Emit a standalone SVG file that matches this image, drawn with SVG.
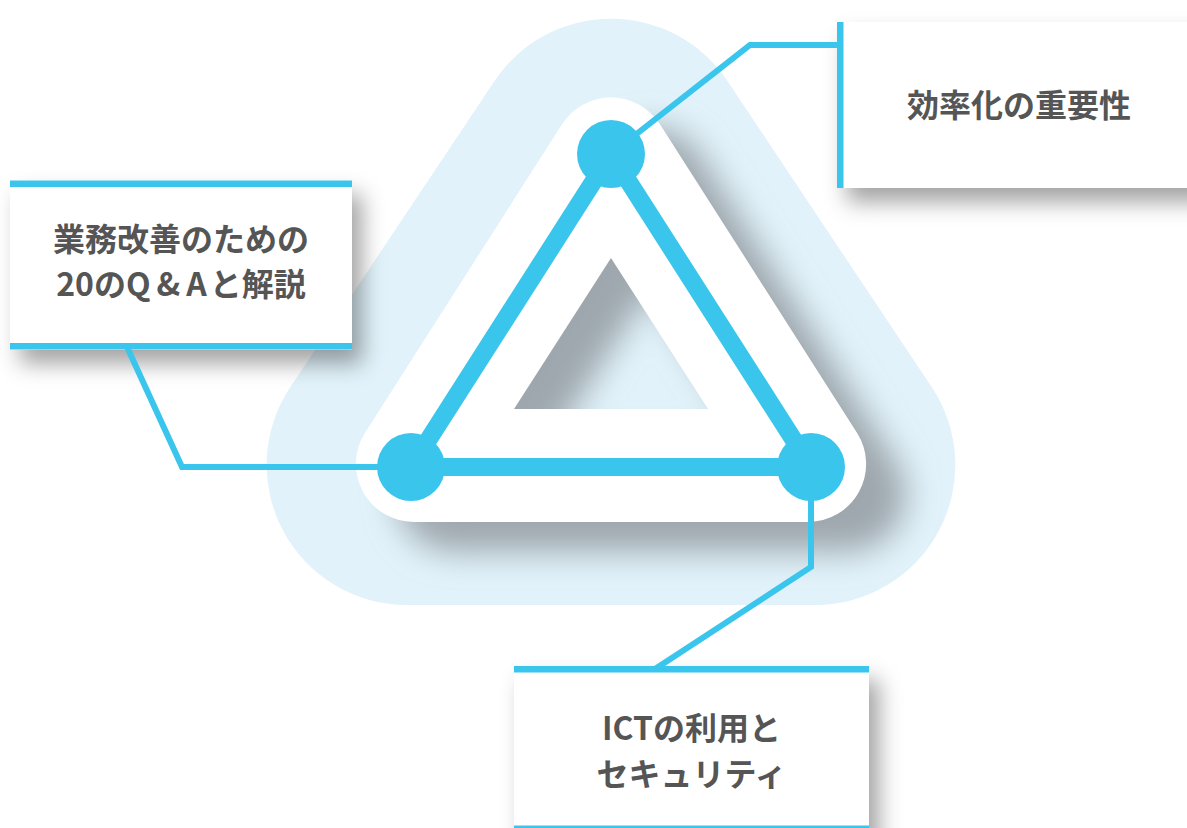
<svg xmlns="http://www.w3.org/2000/svg" width="1187" height="828" viewBox="0 0 1187 828">
  <defs>
    <style>
      .lbl { font-family: "Noto Sans CJK JP", "Noto Sans CJK SC", sans-serif; font-size: 32px; font-weight: 700; fill: #555555; text-anchor: middle; }
      .bar { fill: #3ac5ec; }
      .box { fill: #ffffff; filter: url(#boxShadow); }
      .conn { fill: none; stroke: #3ac5ec; stroke-width: 6; stroke-linejoin: miter; }
      .leg { fill: none; stroke: #3ac5ec; stroke-width: 18; stroke-linejoin: round; }
      .node { fill: #3ac5ec; }
    </style>
    <path id="outerShape" d="M 494.4 81.2 A 140 140 0 0 1 727.6 81.2 L 931.8 387.3 A 140 140 0 0 1 815.3 605 L 406.7 605 A 140 140 0 0 1 290.2 387.3 Z"/>
    <path id="ringShape" fill-rule="evenodd" d="M 562.2 124 A 58 58 0 0 1 659.8 124 L 857.1 432.9 A 58 58 0 0 1 808.3 522 L 413.7 522 A 58 58 0 0 1 364.9 432.9 Z M 611 258 L 514 409 L 708 409 Z"/>
    <clipPath id="outerClip">
      <use href="#outerShape"/>
    </clipPath>
    <filter id="triBlur" x="-30%" y="-30%" width="160%" height="160%">
      <feGaussianBlur stdDeviation="16"/>
    </filter>
    <filter id="boxShadow" x="-20%" y="-30%" width="140%" height="170%">
      <feDropShadow dx="10" dy="14" stdDeviation="11" flood-color="#000000" flood-opacity="0.36"/>
    </filter>
  </defs>

  <g id="background">
    <use href="#outerShape" fill="#e1f2fa"/>
    <g clip-path="url(#outerClip)">
      <use href="#ringShape" fill="#9ea7ad" transform="translate(40,30)" filter="url(#triBlur)"/>
    </g>
    <use href="#ringShape" fill="#ffffff"/>
  </g>

  <g id="triangle">
    <polygon class="leg" points="611,154 411,467 811,467"/>
    <circle id="node-top" class="node" cx="611" cy="154" r="34"/>
    <circle id="node-left" class="node" cx="411" cy="467" r="34"/>
    <circle id="node-right" class="node" cx="811" cy="467" r="34"/>
  </g>

  <g id="box-efficiency">
    <rect class="box" x="837" y="22" width="370" height="166"/>
    <rect class="bar" x="837" y="22" width="6.5" height="166"/>
    <text class="lbl" x="1019" y="117">効率化の重要性</text>
  </g>

  <g id="box-qa">
    <rect class="box" x="10" y="180.5" width="342" height="169"/>
    <rect class="bar" x="10" y="180.5" width="342" height="6.5"/>
    <rect class="bar" x="10" y="343" width="342" height="6.5"/>
    <text class="lbl" x="181" y="251">業務改善のための</text>
    <text class="lbl" x="181" y="296">20の<tspan letter-spacing="6">Q&amp;</tspan><tspan letter-spacing="3">A</tspan>と解説</text>
  </g>

  <g id="box-ict">
    <rect class="box" x="514" y="666" width="355" height="175"/>
    <rect class="bar" x="514" y="666" width="355" height="6.5"/>
    <rect class="bar" x="514" y="825.5" width="355" height="6.5"/>
    <text class="lbl" x="691.5" y="740">ICTの利用と</text>
    <text class="lbl" x="691.5" y="786">セキュリティ</text>
  </g>

  <g id="connectors">
    <polyline class="conn" points="611,154 750,45 840,45"/>
    <polyline class="conn" points="411,467 182,467 127.5,348"/>
    <polyline class="conn" points="811,467 811,567 655,669"/>
  </g>
</svg>
